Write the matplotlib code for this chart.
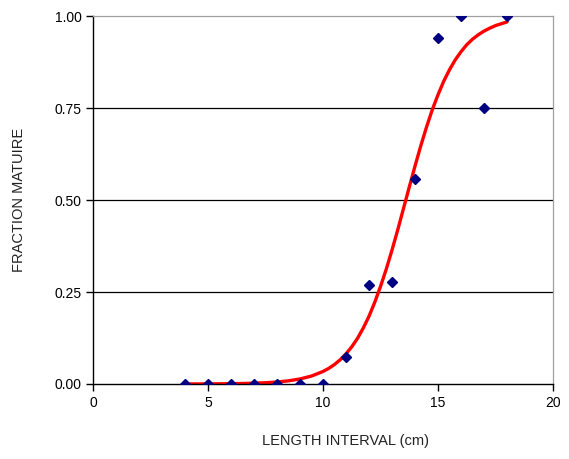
import matplotlib
matplotlib.use("Agg")

import matplotlib.pyplot as plt
from matplotlib.ticker import FormatStrFormatter

plt.rcParams["font.family"] = ["Liberation Sans", "DejaVu Sans"]

# observed fraction mature by length interval
length_cm = [4, 5, 6, 7, 8, 9, 10, 11, 12, 13, 14, 15, 16, 17, 18]
frac_mature = [0.0, 0.0, 0.0, 0.0, 0.0, 0.0, 0.0, 0.073, 0.27, 0.277,
               0.557, 0.94, 1.0, 0.75, 1.0]

# fitted maturity curve
curve_x = [4.0, 4.5, 5.0, 5.5, 6.0, 6.5, 7.0, 7.5, 8.0, 8.5, 9.0, 9.5,
           10.0, 10.25, 10.5, 10.75, 11.0, 11.25, 11.5, 11.75, 12.0, 12.25,
           12.5, 12.75, 13.0, 13.25, 13.5, 13.75, 14.0, 14.25, 14.5, 14.75,
           15.0, 15.25, 15.5, 15.75, 16.0, 16.25, 16.5, 16.75, 17.0, 17.25,
           17.5, 17.75, 18.0]
curve_y = [0.0001, 0.0002, 0.0003, 0.0005, 0.0009, 0.0014, 0.0022, 0.0034,
           0.0054, 0.0086, 0.0137, 0.0216,
           0.034, 0.0425, 0.053, 0.066, 0.082, 0.101, 0.124, 0.152, 0.184,
           0.222, 0.265, 0.312, 0.364, 0.419, 0.477, 0.535, 0.592, 0.647,
           0.698, 0.745, 0.786, 0.823, 0.854, 0.881, 0.903, 0.922, 0.937,
           0.949, 0.959, 0.967, 0.974, 0.979, 0.984]

x_ticks = [0, 5, 10, 15, 20]
y_ticks = [0.0, 0.25, 0.5, 0.75, 1.0]

fig = plt.figure(figsize=(5.69, 4.59), dpi=100)
ax = fig.add_axes([0.1634, 0.1634, 0.8085, 0.8017])

for y in y_ticks[1:-1]:
    ax.axhline(y, color="black", lw=0.9, zorder=1)

ax.plot(curve_x, curve_y, color="#ff0000", lw=2.4, zorder=2,
        solid_capstyle="round", solid_joinstyle="round")
ax.plot(length_cm, frac_mature, linestyle="none", marker="D",
        markersize=5.5, color="#000080", zorder=3)

ax.set_xlim(0, 20)
ax.set_ylim(0, 1)
ax.set_xticks(x_ticks)
ax.set_yticks(y_ticks)
ax.yaxis.set_major_formatter(FormatStrFormatter("%.2f"))

for side in ("top", "right"):
    ax.spines[side].set_color("#a0a0a0")
    ax.spines[side].set_linewidth(0.9)
for side in ("left", "bottom"):
    ax.spines[side].set_color("black")
    ax.spines[side].set_linewidth(1.0)

ax.tick_params(direction="out", length=5, width=1.0, labelsize=10,
               colors="black", pad=3)
ax.tick_params(axis="x", pad=4)

ax.set_xlabel("LENGTH INTERVAL (cm)", fontsize=10.5, color="#222222")
ax.xaxis.set_label_coords(0.548, -0.135)
ax.set_ylabel("FRACTION MATUIRE", fontsize=10.5, color="#222222")
ax.yaxis.set_label_coords(-0.145, 0.5)

fig.savefig("out.png", dpi=100)
plt.close(fig)
